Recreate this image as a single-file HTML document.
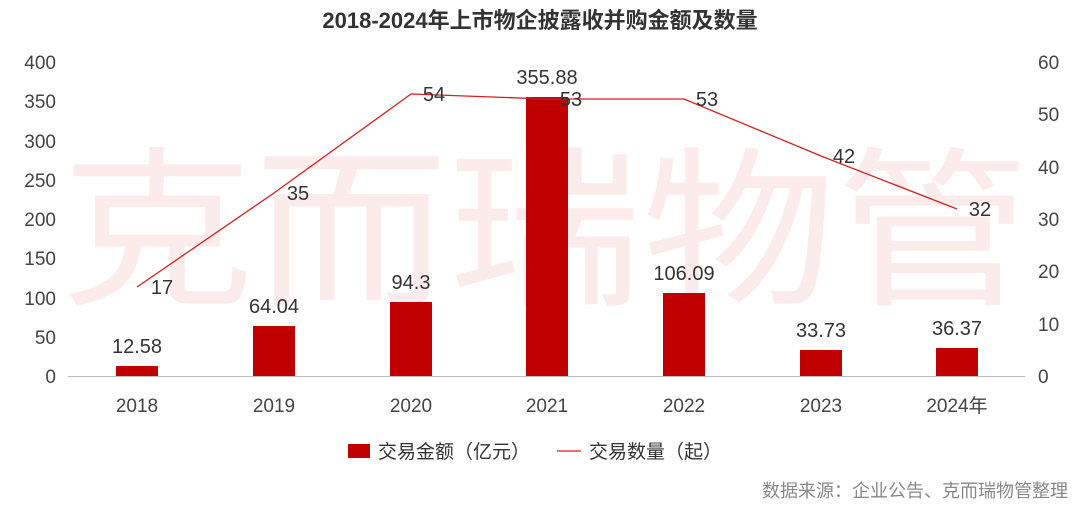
<!DOCTYPE html>
<html><head><meta charset="utf-8"><style>
body{margin:0;background:#fff;}
svg{display:block;font-family:"Liberation Sans","Noto Sans CJK SC",sans-serif;}
</style></head><body>
<svg width="1080" height="506" viewBox="0 0 1080 506">
<text x="545" y="245" font-size="172" fill="#fcebeb" text-anchor="middle" dominant-baseline="middle" textLength="970" lengthAdjust="spacingAndGlyphs" font-family="Noto Sans CJK SC, sans-serif">克而瑞物管</text>
<text x="540" y="28" font-size="22" font-weight="bold" fill="#333" text-anchor="middle">2018-2024年上市物企披露收并购金额及数量</text>
<line x1="68" y1="376.5" x2="1025" y2="376.5" stroke="#bbb" stroke-width="1"/>
<g font-size="19" fill="#444" text-anchor="end">
<text x="56" y="383">0</text><text x="56" y="344">50</text><text x="56" y="305">100</text><text x="56" y="265">150</text><text x="56" y="226">200</text><text x="56" y="187">250</text><text x="56" y="148">300</text><text x="56" y="108">350</text><text x="56" y="69">400</text>
</g>
<g font-size="19" fill="#444" text-anchor="start">
<text x="1038" y="383">0</text><text x="1038" y="331">10</text><text x="1038" y="278">20</text><text x="1038" y="226">30</text><text x="1038" y="174">40</text><text x="1038" y="121">50</text><text x="1038" y="69">60</text>
</g>
<g font-size="19" fill="#444" text-anchor="middle">
<text x="137" y="412">2018</text><text x="274" y="412">2019</text><text x="411" y="412">2020</text><text x="547" y="412">2021</text><text x="684" y="412">2022</text><text x="821" y="412">2023</text><text x="957" y="412">2024年</text>
</g>
<g fill="#c00000">
<rect x="116" y="366" width="42" height="10"/>
<rect x="253" y="326" width="42" height="50"/>
<rect x="390" y="302" width="42" height="74"/>
<rect x="526" y="97" width="42" height="279"/>
<rect x="663" y="293" width="42" height="83"/>
<rect x="800" y="350" width="42" height="26"/>
<rect x="936" y="348" width="42" height="28"/>
</g>
<polyline points="137,287 274,193 411,94 547,99 684,99 821,156 957,209" fill="none" stroke="#d42020" stroke-width="1.3"/>
<g font-size="20" fill="#333" text-anchor="middle">
<text x="137" y="353">12.58</text><text x="274" y="313">64.04</text><text x="411" y="289">94.3</text><text x="547" y="84">355.88</text><text x="684" y="280">106.09</text><text x="821" y="337">33.73</text><text x="957" y="335">36.37</text>
</g>
<g font-size="20" fill="#333" text-anchor="middle">
<text x="162" y="294">17</text><text x="298" y="200">35</text><text x="434" y="101">54</text><text x="571" y="106">53</text><text x="707" y="106">53</text><text x="844" y="163">42</text><text x="980" y="216">32</text>
</g>
<rect x="348" y="444" width="22" height="14" fill="#c00000"/>
<text x="378" y="458" font-size="19" fill="#333">交易金额（亿元）</text>
<line x1="557" y1="451" x2="581" y2="451" stroke="#d42020" stroke-width="1.3"/>
<text x="589" y="458" font-size="19" fill="#333">交易数量（起）</text>
<text x="1068" y="497" font-size="18" fill="#888" text-anchor="end">数据来源：企业公告、克而瑞物管整理</text>
</svg>
</body></html>
